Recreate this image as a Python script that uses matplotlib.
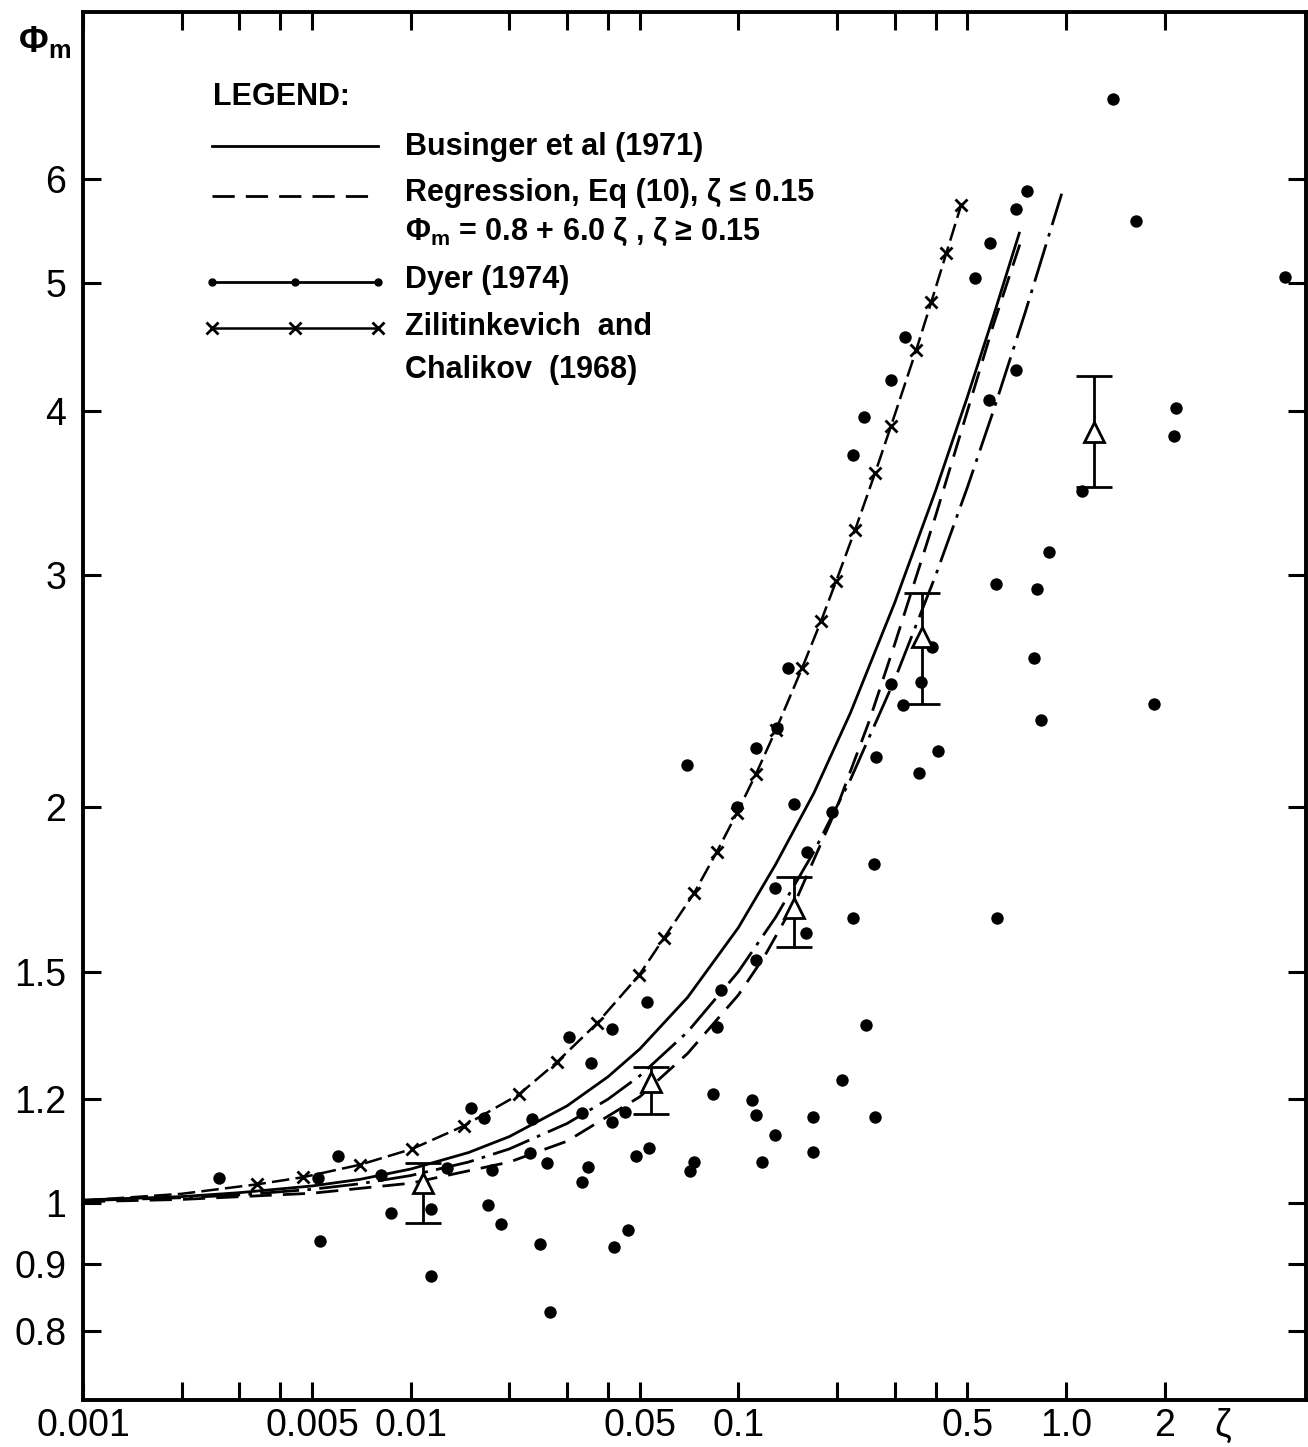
import numpy as np
import matplotlib
matplotlib.use('Agg')
import matplotlib.pyplot as plt
from matplotlib.ticker import FixedLocator, FixedFormatter, NullLocator
from matplotlib.transforms import blended_transform_factory

plt.rcParams['font.family'] = ['Liberation Sans', 'DejaVu Sans']
plt.rcParams['mathtext.fontset'] = 'custom'
plt.rcParams['mathtext.rm'] = 'Liberation Sans'
plt.rcParams['mathtext.bf'] = 'Liberation Sans:bold'

# --- curves (zeta, phi_m) ---
BUS_ZETA = [0.001, 0.002, 0.003, 0.005, 0.007, 0.01, 0.015, 0.02, 0.03, 0.04, 0.05,
            0.07, 0.1, 0.13, 0.17, 0.22, 0.3, 0.4, 0.5, 0.6, 0.72]
BUS_PHI = [1.006, 1.012, 1.019, 1.031, 1.043, 1.062, 1.093, 1.124, 1.186, 1.248, 1.31,
           1.434, 1.62, 1.81, 2.05, 2.36, 2.86, 3.48, 4.10, 4.72, 5.46]

REG_ZETA = [0.001, 0.002, 0.005, 0.01, 0.02, 0.03, 0.05, 0.07, 0.1, 0.12, 0.15,
            0.2, 0.25, 0.3, 0.4, 0.5, 0.6, 0.74]
REG_PHI = [1.003, 1.007, 1.018, 1.036, 1.075, 1.115, 1.205, 1.30, 1.44, 1.54, 1.70,
           2.00, 2.32, 2.66, 3.33, 4.00, 4.65, 5.45]

DYER_ZETA = [0.001, 0.002, 0.003, 0.005, 0.007, 0.01, 0.015, 0.02, 0.03, 0.04, 0.05,
             0.07, 0.1, 0.13, 0.17, 0.22, 0.3, 0.4, 0.5, 0.6, 0.75, 0.97]
DYER_PHI = [1.005, 1.01, 1.015, 1.025, 1.035, 1.05, 1.075, 1.10, 1.15, 1.20, 1.25,
            1.35, 1.50, 1.65, 1.85, 2.10, 2.50, 3.00, 3.50, 4.00, 4.75, 5.85]

ZIL_ZETA = [0.001, 0.002, 0.0034, 0.0047, 0.0070, 0.0101, 0.0145, 0.0214, 0.0279, 0.0370,
            0.0497, 0.0592, 0.0732, 0.0860, 0.099, 0.1132, 0.1302, 0.1564, 0.1788,
            0.1988, 0.2272, 0.2615, 0.2927, 0.3490, 0.3879, 0.4310, 0.4790]
ZIL_PHI = [1.005, 1.017, 1.034, 1.047, 1.07, 1.10, 1.145, 1.21, 1.28, 1.37,
           1.49, 1.59, 1.72, 1.85, 1.98, 2.12, 2.29, 2.55, 2.77,
           2.97, 3.25, 3.59, 3.90, 4.45, 4.84, 5.27, 5.74]

# --- individual observations ---
DOT_ZETA = [0.0026, 0.0053, 0.0052, 0.0060, 0.0081, 0.0087, 0.0115, 0.0115, 0.0172, 0.0188,
            0.0177, 0.0153, 0.0167, 0.0232, 0.0234, 0.0248, 0.0260, 0.0266, 0.0304, 0.0354,
            0.0333, 0.0347, 0.0333, 0.0411, 0.0450, 0.0411, 0.0417, 0.0460, 0.0486, 0.0533,
            0.0525, 0.0711, 0.0731, 0.0696, 0.0836, 0.0860, 0.0884, 0.110, 0.113, 0.118,
            0.129, 0.113, 0.099, 0.113, 0.131, 0.142, 0.148, 0.129, 0.161, 0.162,
            0.169, 0.169, 0.193, 0.207, 0.224, 0.224, 0.242, 0.245, 0.260, 0.261,
            0.263, 0.293, 0.293, 0.323, 0.318, 0.356, 0.361, 0.390, 0.407, 0.528,
            0.587, 0.583, 0.613, 0.617, 0.705, 0.762, 0.705, 0.800, 0.817, 0.841,
            0.889, 1.12, 1.39, 1.64, 1.85, 2.17, 2.14, 4.65, 0.0129]
DOT_PHI = [1.046, 0.936, 1.046, 1.087, 1.051, 0.983, 0.990, 0.881, 0.997, 0.965,
           1.060, 1.182, 1.161, 1.092, 1.159, 0.932, 1.073, 0.827, 1.338, 1.279,
           1.038, 1.066, 1.172, 1.153, 1.174, 1.357, 0.927, 0.955, 1.087, 1.102,
           1.423, 1.058, 1.075, 2.154, 1.211, 1.362, 1.453, 1.198, 1.168, 1.075,
           1.127, 1.531, 2.001, 2.219, 2.298, 2.553, 2.012, 1.737, 1.606, 1.850,
           1.163, 1.094, 1.984, 1.241, 1.648, 3.706, 3.960, 1.367, 1.811, 1.163,
           2.184, 4.226, 2.482, 4.556, 2.393, 2.124, 2.491, 2.648, 2.208, 5.051,
           5.370, 4.080, 2.957, 1.648, 5.699, 5.882, 4.300, 2.598, 2.931, 2.331,
           3.127, 3.479, 6.910, 5.580, 2.397, 4.023, 3.831, 5.059, 1.064]

# --- class means with spread ---
TRI_ZETA = [0.0109, 0.0541, 0.148, 0.364, 1.22]
TRI_PHI = [1.036, 1.237, 1.677, 2.696, 3.858]
TRI_LO = [0.966, 1.170, 1.566, 2.397, 3.503]
TRI_HI = [1.073, 1.270, 1.770, 2.911, 4.256]

XTICKS = [0.001, 0.002, 0.003, 0.004, 0.005, 0.01, 0.02, 0.03, 0.04, 0.05,
          0.1, 0.2, 0.3, 0.4, 0.5, 1, 2]
XLABELS = ['0.001', '', '', '', '0.005', '0.01', '', '', '', '0.05',
           '0.1', '', '', '', '0.5', '1.0', '2']
YTICKS = [0.8, 0.9, 1, 1.2, 1.5, 2, 3, 4, 5, 6]
YLABELS = ['0.8', '0.9', '1', '1.2', '1.5', '2', '3', '4', '5', '6']

W, H = 1308, 1447
fig = plt.figure(figsize=(W / 100, H / 100), dpi=100)
ax = fig.add_axes([83 / W, 1 - 1400 / H, (1306 - 83) / W, (1400 - 12) / H])
ax.set_xscale('log')
ax.set_yscale('log')
ax.set_xlim(0.001, 5.4)
ax.set_ylim(0.709, 8.04)

k = 'black'
DASH = (8, 4)
DASHDOT = (14, 3, 1.3, 3)
ax.plot(BUS_ZETA, BUS_PHI, color=k, lw=2.0)
ax.plot(REG_ZETA, REG_PHI, color=k, lw=2.0, dashes=DASH)
ax.plot(DYER_ZETA, DYER_PHI, color=k, lw=2.0, dashes=DASHDOT)
ax.plot(ZIL_ZETA, ZIL_PHI, color=k, lw=1.8, dashes=(7, 2.5), marker='x', ms=8,
        mew=2, markevery=slice(2, None))

ax.scatter(DOT_ZETA, DOT_PHI, s=80, color=k, linewidths=0, zorder=4)

tri_phi = np.array(TRI_PHI)
yerr = [tri_phi - np.array(TRI_LO), np.array(TRI_HI) - tri_phi]
ax.errorbar(TRI_ZETA, TRI_PHI, yerr=yerr, fmt='none', ecolor=k, elinewidth=2,
            capsize=13, capthick=2, zorder=5)
ax.plot(TRI_ZETA, TRI_PHI, linestyle='none', marker='^', ms=15, mfc='white',
        mec=k, mew=2, zorder=6)

# axes frame and ticks
for sp in ax.spines.values():
    sp.set_linewidth(2.8)
ax.xaxis.set_major_locator(FixedLocator(XTICKS))
ax.xaxis.set_major_formatter(FixedFormatter(XLABELS))
ax.yaxis.set_major_locator(FixedLocator(YTICKS))
ax.yaxis.set_major_formatter(FixedFormatter(YLABELS))
ax.xaxis.set_minor_locator(NullLocator())
ax.yaxis.set_minor_locator(NullLocator())
ax.tick_params(which='major', direction='in', top=True, right=True, length=13,
               width=2.2, labelsize=27, colors=k)
ax.tick_params(axis='x', pad=6)
ax.tick_params(axis='y', pad=12)

tr = blended_transform_factory(ax.transData, ax.transAxes)
ax.text(3, -0.006, 'ζ', transform=tr, ha='center', va='top', fontsize=27)
fig.text(45 / W, 1 - 42 / H, r'$\mathbf{\Phi_m}$', ha='center', va='center',
         fontsize=26)

# legend block
def fx(px):
    return (px - 83) / (1306 - 83)

def fy(py):
    return (1400 - py) / (1400 - 12)

lfs = 22
lw_txt = 'bold'
ax.text(fx(213), fy(97), 'LEGEND:', transform=ax.transAxes, ha='left', va='center',
        fontsize=lfs, fontweight=lw_txt)
x0, x1 = fx(212), fx(378)
xm = (x0 + x1) / 2
ax.plot([x0, x1], [fy(146)] * 2, transform=ax.transAxes, color=k, lw=2.0)
ax.plot([x0, x1], [fy(196)] * 2, transform=ax.transAxes, color=k, lw=2.0,
        dashes=DASH)
ax.plot([x0, x1], [fy(282)] * 2, transform=ax.transAxes, color=k, lw=2.0)
ax.plot([x0, xm, x1], [fy(282)] * 3, transform=ax.transAxes,
        linestyle='none', marker='o', ms=5, color=k)
ax.plot([x0, x1], [fy(328)] * 2, transform=ax.transAxes, color=k, lw=1.8)
ax.plot([x0, xm, x1], [fy(328)] * 3, transform=ax.transAxes,
        linestyle='none', marker='x', ms=8, mew=2, color=k)

tx = fx(405)
ax.text(tx, fy(147), 'Businger et al (1971)', transform=ax.transAxes,
        va='center', fontsize=lfs, fontweight=lw_txt)
ax.text(tx, fy(193), 'Regression, Eq (10), ζ ≤ 0.15', transform=ax.transAxes,
        va='center', fontsize=lfs, fontweight=lw_txt)
ax.text(tx, fy(232), r'$\mathbf{\Phi_m}$ = 0.8 + 6.0 ζ , ζ ≥ 0.15',
        transform=ax.transAxes, va='center', fontsize=lfs, fontweight=lw_txt)
ax.text(tx, fy(280), 'Dyer (1974)', transform=ax.transAxes, va='center',
        fontsize=lfs, fontweight=lw_txt)
ax.text(tx, fy(327), 'Zilitinkevich  and', transform=ax.transAxes, va='center',
        fontsize=lfs, fontweight=lw_txt)
ax.text(tx, fy(370), 'Chalikov  (1968)', transform=ax.transAxes, va='center',
        fontsize=lfs, fontweight=lw_txt)

fig.savefig('out.png', dpi=100, facecolor='white')
